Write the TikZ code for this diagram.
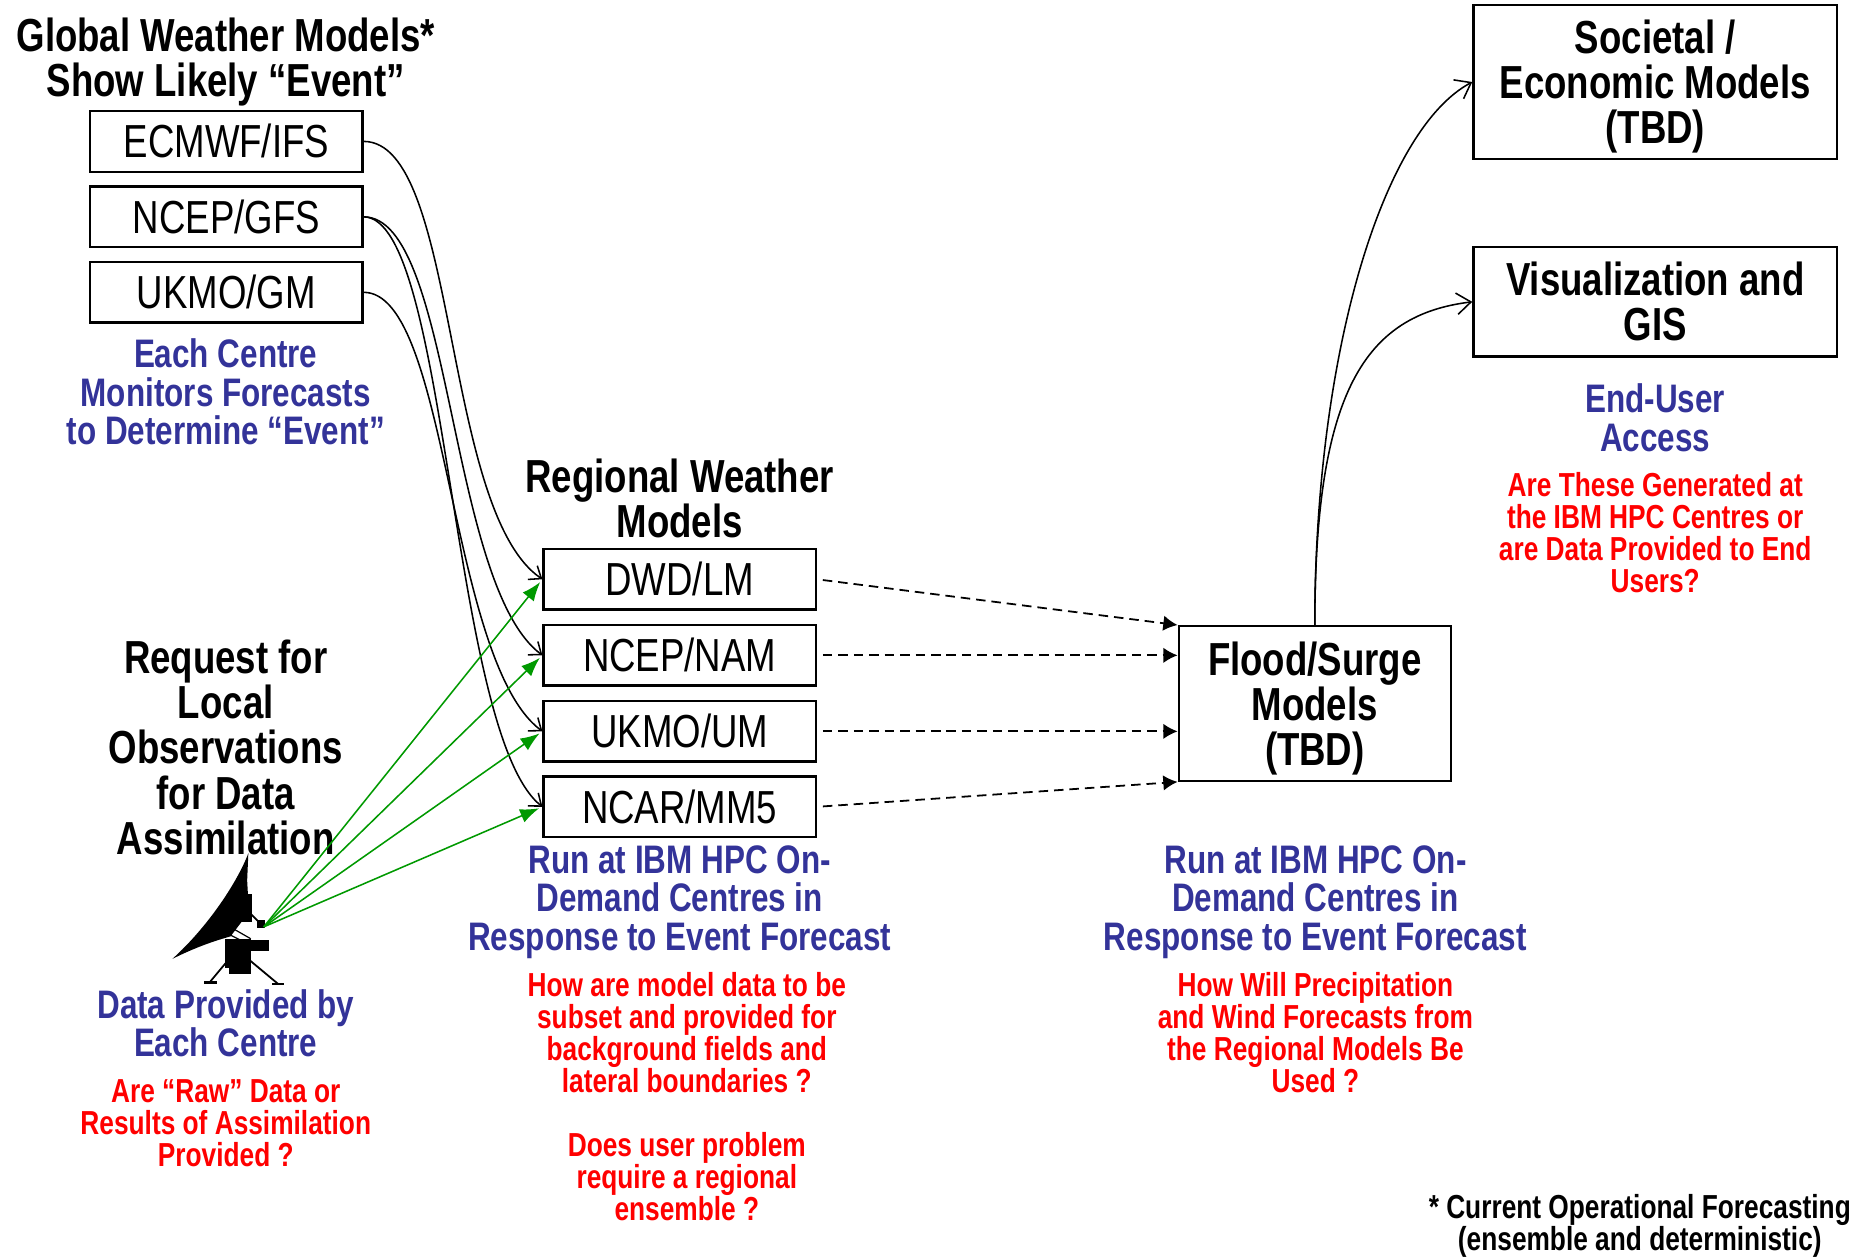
\documentclass[tikz,border=0pt]{standalone}
\usepackage{fontspec}
\setmainfont{Liberation Sans}[FakeStretch=0.79]
\usetikzlibrary{arrows.meta}
\definecolor{noteblue}{RGB}{51,51,153}
\definecolor{feedgreen}{RGB}{0,153,0}

\begin{document}
\begin{tikzpicture}[x=1pt,y=-1pt]
\tikzset{
  model/.style={draw,line width=2pt,minimum width=229pt,minimum height=51pt,inner sep=0pt,font=\fontsize{39}{38}\selectfont},
  bigbox/.style={draw,line width=2pt,inner sep=0pt,align=center,font=\fontsize{39}{38}\selectfont\bfseries},
  heading/.style={align=center,inner sep=0pt,font=\fontsize{39}{38}\selectfont\bfseries},
  note/.style={align=center,inner sep=0pt,text=noteblue,font=\fontsize{33.5}{32.5}\selectfont\bfseries},
  query/.style={align=center,inner sep=0pt,text=red,font=\fontsize{28}{27}\selectfont\bfseries},
  boundary/.style={line width=1.3pt,-{Straight Barb[length=9pt,width=14pt]}},
  feed/.style={feedgreen,line width=1.3pt,-{Latex[length=16pt,width=12pt]},shorten >=3pt},
  couple/.style={line width=1.5pt,dash pattern=on 8pt off 5pt,-{Latex[length=12pt,width=13pt]},shorten <=5pt},
  output/.style={line width=1.3pt,-{Straight Barb[length=12pt,width=18pt]}}
}
\useasboundingbox (0,0) rectangle (1567,1058);

% global models
\node[heading] (globtitle) at (190,52) {Global Weather Models*\\Show Likely “Event”};
\node[model] (ecmwf) at (190.5,119) {ECMWF/IFS};
\node[model] (ncepgfs) at (190.5,182.5) {NCEP/GFS};
\node[model] (ukmogm) at (190.5,246) {UKMO/GM};
\node[note] (monitor) at (190,330) {Each Centre\\Monitors Forecasts\\to Determine “Event”};

% regional models
\node[heading] (regtitle) at (572,419.5) {Regional Weather\\Models};
\node[model] (dwdlm) at (572,487.5) {DWD/LM};
\node[model] (ncepnam) at (572,551.5) {NCEP/NAM};
\node[model] (ukmoum) at (572,615.5) {UKMO/UM};
\node[model] (ncarmm5) at (572,679) {NCAR/MM5};
\node[note] (regrun) at (572,759) {Run at IBM HPC On-\\Demand Centres in\\Response to Event Forecast};
\node[query] (regq) at (578,869) {How are model data to be\\subset and provided for\\background fields and\\lateral boundaries ?};
\node[query] (ensq) at (578,990.5) {Does user problem\\require a regional\\ensemble ?};

% observations
\node[heading] (request) at (190,629) {Request for\\Local\\Observations\\for Data\\Assimilation};
\node[note] (provided) at (190,861) {Data Provided by\\Each Centre};
\node[query] (rawq) at (190,945) {Are “Raw” Data or\\Results of Assimilation\\Provided ?};

% antenna
\coordinate (dish) at (222,780);
\fill (209,718) .. controls (200,742) and (175,780) .. (145,807)
  .. controls (165,797) and (180,792) .. (194,788)
  -- (210,767) -- (209,759) -- (208,741) -- cycle;
\fill (200,752) rectangle (212,776);
\fill (189,790) rectangle (211,815);
\fill (211,791) rectangle (226,800);
\fill (193,815) rectangle (211,820);
\fill (216,774) rectangle (223,781);
\draw[line width=1.5pt] (210,768) -- (dish);
\draw[line width=1.5pt] (192,808) -- (177,826) (210,808) -- (234,828);
\draw[line width=2.2pt] (172,827) -- (183,827) (229,828) -- (239,828);
\draw[line width=1pt] (192,786) -- (208,794) (197,782) -- (211,790);

% flood / surge
\node[bigbox,text depth=0pt,minimum width=229pt,minimum height=130pt] (flood) at (1106.5,592) {Flood/Surge\\Models\\(TBD)};
\node[note] (floodrun) at (1107,759) {Run at IBM HPC On-\\Demand Centres in\\Response to Event Forecast};
\node[query] (floodq) at (1107,869) {How Will Precipitation\\and Wind Forecasts from\\the Regional Models Be\\Used ?};

% end users
\node[bigbox,text depth=0pt,minimum width=306pt,minimum height=130pt] (societal) at (1393,69) {Societal /\\Economic Models\\(TBD)};
\node[bigbox,minimum width=306pt,minimum height=92pt] (visual) at (1393,254) {Visualization and\\GIS};
\node[note] (access) at (1393,351.5) {End-User\\Access};
\node[query] (accessq) at (1393,448.5) {Are These Generated at\\the IBM HPC Centres or\\are Data Provided to End\\Users?};

\node[heading,font=\fontsize{28}{27}\selectfont\bfseries] (footnote) at (1380,1032) {* Current Operational Forecasting\\(ensemble and deterministic)};

% boundary data
\draw[boundary] (ecmwf.east) .. controls +(80,0) and +(-85,-58) .. (dwdlm.west);
\draw[boundary] (ncepgfs.east) .. controls +(75,0) and +(-80,-60) .. (ncepnam.west);
\draw[boundary] (ncepgfs.east) .. controls +(72,0) and +(-78,-62) .. (ncarmm5.west);
\draw[boundary] (ukmogm.east) .. controls +(72,0) and +(-80,-60) .. (ukmoum.west);

% observations to regional models
\draw[feed] (dish) -- (dwdlm.west);
\draw[feed] (dish) -- (ncepnam.west);
\draw[feed] (dish) -- (ukmoum.west);
\draw[feed] (dish) -- (ncarmm5.west);

% regional to flood
\draw[couple] (dwdlm.east) -- (flood.north west);
\draw[couple] (ncepnam.east) -- (ncepnam.east -| flood.west);
\draw[couple] (ukmoum.east) -- (ukmoum.east -| flood.west);
\draw[couple] (ncarmm5.east) -- (flood.south west);

% flood to end users
\draw[output] (flood.north) .. controls +(0,-230) and +(-75,40) .. (societal.west);
\draw[output] (flood.north) .. controls +(0,-197) and +(-90,11) .. (visual.west);

\end{tikzpicture}
\end{document}
